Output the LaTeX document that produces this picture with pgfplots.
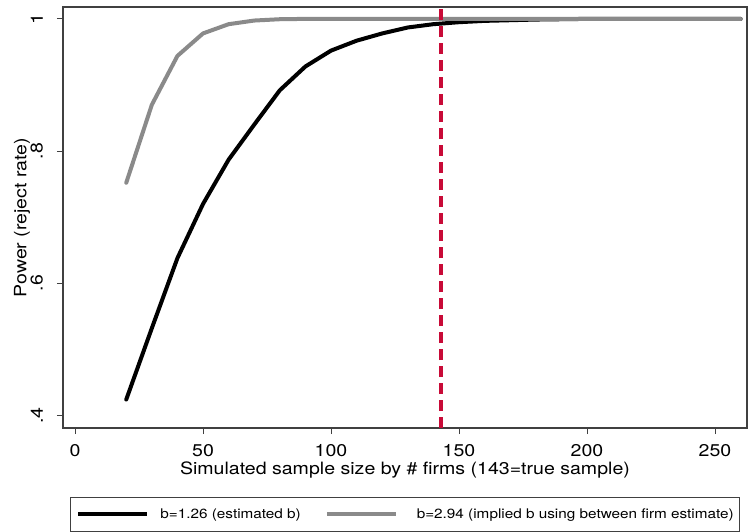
\documentclass[border=0pt]{standalone}
\usepackage{pgfplots}
\pgfplotsset{compat=1.18}
\usepackage{fontspec}
\setmainfont[FakeStretch=1.15]{TeX Gyre Heros}

\definecolor{stred}{RGB}{200,10,55}
\definecolor{stgray}{RGB}{138,138,138}

\begin{document}
\begin{tikzpicture}
\begin{axis}[
    scale only axis,
    width=684pt, height=421pt,
    xmin=-4.7, xmax=262.5,
    ymin=0.381, ymax=1.018,
    xtick={0,50,100,150,200,250},
    ytick={0.4,0.6,0.8,1},
    yticklabels={.4,.6,.8,1},
    tick align=outside,
    major tick length=6pt,
    xtick pos=bottom, ytick pos=left,
    tick style={black!75, line width=0.9pt},
    axis line style={black!75, line width=1.1pt},
    /pgf/number format/assume math mode=true,
    ticklabel style={font=\fontsize{17}{19}\selectfont},
    xticklabel style={inner sep=0pt},
    xticklabel shift=10pt,
    yticklabel style={rotate=90, anchor=south, inner sep=0pt},
    yticklabel shift=14pt,
    xlabel={Simulated sample size by \# firms (143=true sample)},
    ylabel={Power (reject rate)},
    label style={font=\fontsize{17}{19}\selectfont},
    xlabel style={at={(axis description cs:0.5,0)}, anchor=north, yshift=-34pt, inner sep=0pt},
    ylabel style={at={(axis description cs:-0.048,0.5)}, anchor=south, inner sep=0pt},
    legend columns=4,
    legend image code/.code={\draw[#1, line cap=butt] (0pt,0pt) -- (69pt,0pt);},
    legend style={
        at={(axis description cs:0.0102,-0.163)}, anchor=north west,
        font=\fontsize{13.3}{16}\selectfont,
        draw=black!75, line width=0.8pt,
        inner xsep=6pt, inner ysep=10pt,
        nodes={inner sep=0pt, text height=11pt, text depth=3pt, anchor=west},
        /tikz/column 1/.style={column sep=11pt},
        /tikz/column 2/.style={column sep=24pt},
        /tikz/column 3/.style={column sep=19pt},
    },
]
\addplot[black, line width=4pt, line cap=round, line join=round] coordinates {
    (20,0.424) (30,0.532) (40,0.638) (50,0.720) (60,0.787) (70,0.840)
    (80,0.892) (90,0.928) (100,0.952) (110,0.967) (120,0.978) (130,0.987)
    (140,0.992) (150,0.995) (160,0.997) (170,0.998) (180,0.999) (190,0.9995)
    (200,1) (210,1) (220,1) (230,1) (240,1) (250,1) (260,1)
};
\addlegendentry{b=1.26 (estimated b)}
\addplot[stgray, line width=4pt, line cap=round, line join=round] coordinates {
    (20,0.752) (30,0.870) (40,0.944) (50,0.978) (60,0.992) (70,0.9975)
    (80,0.9995) (90,1) (100,1) (110,1) (120,1) (130,1) (140,1) (150,1)
    (160,1) (170,1) (180,1) (190,1) (200,1) (210,1) (220,1) (230,1)
    (240,1) (250,1) (260,1)
};
\addlegendentry{b=2.94 (implied b using between firm estimate)}
\addplot[stred, line width=3.6pt, dash pattern=on 11pt off 6pt, forget plot] coordinates {
    (143,0.381) (143,1.018)
};
\end{axis}
\path ([xshift=-63pt,yshift=-101pt]current axis.south west) rectangle ([xshift=1pt,yshift=7pt]current axis.north east);
\end{tikzpicture}
\end{document}
